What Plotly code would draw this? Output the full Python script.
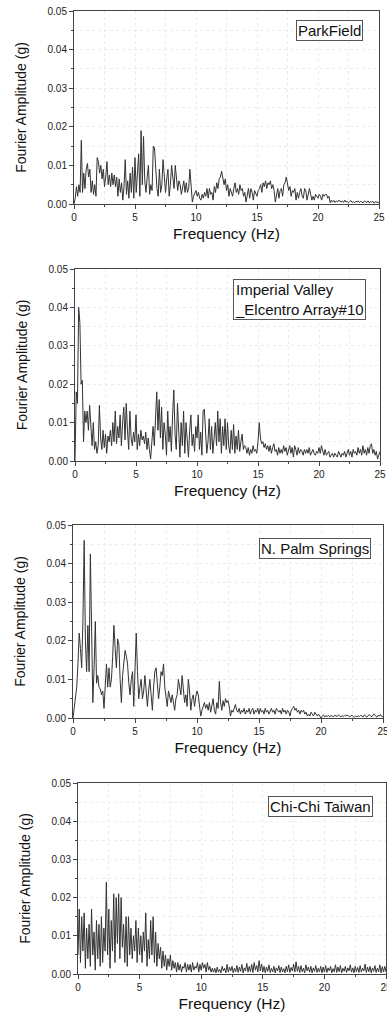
import plotly.graph_objects as go

# Frequency grid step (Hz) shared by all records
freq_step = 0.1

station_names = ["ParkField", "Imperial Valley<br>_Elcentro Array#10",
                 "N. Palm Springs", "Chi-Chi Taiwan"]

x_ticks = [0, 5, 10, 15, 20, 25]
y_ticks = [0.00, 0.01, 0.02, 0.03, 0.04, 0.05]

# Fourier amplitudes in milli-g (1e-3 g), one value per 0.1 Hz from 0 to 25 Hz
parkfield_mg = [
    0.0, 1.5, 4.5, 2.0, 5.0, 3.0, 16.5, 3.0, 8.0, 4.0,
    9.0, 10.5, 7.0, 9.0, 3.0, 6.0, 2.5, 5.0, 2.0, 12.0,
    11.0, 8.0, 10.0, 6.5, 9.0, 4.5, 7.0, 11.0, 5.0, 7.5,
    4.5, 8.0, 5.0, 7.5, 4.5, 7.0, 2.0, 6.5, 3.0, 5.5,
    1.0, 4.5, 11.5, 2.5, 6.0, 1.5, 8.0, 3.0, 9.5, 1.5,
    12.0, 3.0, 8.0, 13.0, 2.0, 19.0, 5.0, 17.5, 6.0, 3.0,
    7.0, 10.0, 2.5, 5.0, 3.5, 15.0, 14.5, 8.0, 4.0, 2.0,
    9.0, 3.0, 5.0, 11.5, 6.0, 3.0, 6.5, 9.0, 2.0, 5.0,
    10.0, 7.0, 4.0, 10.0, 5.5, 3.5, 6.0, 5.0, 2.5, 4.0,
    6.0, 3.0, 5.5, 3.0, 4.0, 9.0, 5.0, 0.5, 2.0, 3.0,
    3.5, 2.0, 3.0, 1.5, 1.0, 2.5, 1.5, 3.0, 2.0, 4.0,
    1.5, 4.0, 2.5, 3.0, 1.0, 4.5, 3.0, 5.5, 4.0, 6.5,
    7.0, 8.5, 6.0, 5.0, 6.5, 3.5, 5.0, 2.0, 4.0, 3.0,
    2.0, 4.0, 5.5, 3.0, 4.0, 2.5, 5.0, 3.5, 4.0, 2.0,
    3.0, 0.5, 2.5, 4.0, 1.5, 4.0, 3.0, 1.0, 3.5, 2.5,
    2.0, 3.5, 4.0, 5.0, 3.0, 5.5, 4.5, 6.0, 4.0, 5.5,
    5.0, 6.0, 4.0, 5.0, 3.5, 0.5, 2.0, 4.0, 1.5, 3.5,
    4.0, 2.0, 5.0, 5.5, 7.0, 4.5, 3.5, 4.5, 2.0, 3.5,
    3.0, 4.0, 1.0, 3.0, 1.5, 3.0, 4.0, 2.0, 1.5, 4.0,
    3.5, 1.0, 3.0, 4.0, 2.5, 1.0, 2.0, 1.0, 2.5, 2.0,
    1.5, 2.5, 2.0, 1.0, 2.5, 2.0, 2.5, 2.5, 1.5, 2.0,
    0.3, 1.0, 0.5, 0.9, 0.4, 0.8, 0.5, 1.0, 0.6, 0.5,
    0.8, 0.4, 1.0, 0.5, 0.7, 0.3, 0.6, 0.9, 0.4, 0.6,
    0.3, 0.7, 0.5, 0.8, 0.4, 0.7, 0.5, 0.3, 0.8, 0.5,
    0.4, 0.8, 0.3, 0.6, 0.5, 0.7, 0.2, 0.6, 0.5, 0.4,
    0.3,
]

imperial_valley_mg = [
    0.0, 18.0, 15.0, 40.0, 36.0, 20.0, 21.0, 5.0, 13.0, 10.0,
    13.0, 8.0, 14.5, 10.0, 4.0, 10.0, 3.0, 5.0, 2.0, 4.0,
    14.5, 6.0, 3.0, 8.0, 3.5, 7.0, 2.0, 6.5, 5.0, 8.0,
    4.0, 10.0, 5.0, 13.0, 4.5, 9.0, 6.0, 12.0, 4.0, 10.0,
    14.0, 5.5, 15.0, 8.0, 3.0, 13.0, 6.0, 4.0, 7.5, 5.0,
    12.0, 3.0, 7.0, 4.0, 8.0, 5.5, 6.5, 4.5, 7.5, 3.0,
    6.0, 3.0, 0.5, 5.0, 9.0, 4.0, 12.0, 18.0, 8.0, 16.0,
    6.0, 14.0, 3.0, 10.0, 7.0, 1.5, 13.0, 5.0, 9.0, 2.5,
    12.0, 18.5, 7.0, 3.0, 15.0, 8.0, 1.0, 10.0, 4.0, 13.0,
    2.0, 10.0, 5.0, 1.0, 8.0, 12.0, 4.0, 7.0, 2.5, 9.0,
    6.0, 12.0, 3.0, 7.5, 1.5, 13.0, 13.5, 8.0, 2.0, 5.0,
    11.0, 3.0, 9.0, 2.0, 6.0, 10.0, 4.0, 13.0, 5.0, 11.0,
    2.0, 9.0, 4.0, 11.0, 3.0, 10.0, 4.0, 2.0, 8.0, 3.0,
    9.5, 2.0, 6.5, 3.0, 8.0, 2.5, 5.0, 7.0, 3.0, 4.0,
    3.5, 2.0, 3.5, 1.5, 3.0, 2.0, 4.0, 2.5, 3.0, 2.0,
    5.0, 10.0, 6.0, 4.5, 5.0, 3.5, 4.5, 3.0, 4.0, 2.5,
    4.0, 2.0, 3.5, 4.5, 2.5, 3.0, 1.5, 3.5, 2.0, 3.0,
    2.0, 4.0, 2.5, 3.5, 1.5, 3.0, 4.0, 2.0, 3.5, 1.0,
    4.0, 3.0, 1.5, 3.5, 2.0, 3.0, 2.5, 1.5, 3.0, 2.0,
    3.0, 2.0, 3.5, 1.5, 2.5, 3.0, 2.0, 1.5, 2.5, 2.0,
    3.5, 2.0, 4.0, 2.5, 1.5, 3.0, 1.5, 2.0, 2.5, 1.0,
    1.5, 2.0, 1.0, 2.0, 1.5, 1.0, 2.5, 1.5, 1.0, 2.0,
    1.5, 2.5, 1.0, 2.0, 3.0, 1.5, 2.5, 1.0, 3.0, 2.0,
    2.5, 1.5, 3.5, 2.0, 3.0, 1.5, 4.0, 2.0, 3.0, 1.5,
    3.5, 2.0, 4.0, 4.5, 2.0, 3.0, 1.5, 2.5, 0.5, 1.5,
    2.5,
]

palm_springs_mg = [
    0.0, 3.0, 5.0, 8.0, 14.0, 22.0, 18.0, 13.0, 25.0, 46.0,
    20.0, 12.0, 24.0, 12.0, 42.5, 25.0, 4.0, 13.0, 25.0, 9.0,
    11.0, 8.0, 7.5, 6.0, 7.0, 2.5, 9.0, 14.0, 8.0, 13.0,
    8.0, 10.0, 16.0, 24.0, 18.0, 13.0, 20.5, 19.0, 10.0, 4.0,
    11.0, 15.0, 17.5, 16.0, 14.0, 9.0, 6.0, 10.0, 12.0, 3.0,
    15.0, 22.0, 12.0, 5.0, 8.0, 10.0, 5.0, 7.0, 11.0, 6.0,
    3.0, 7.0, 10.0, 6.0, 2.0, 8.0, 12.0, 13.0, 9.0, 5.0,
    8.0, 12.0, 11.0, 14.0, 8.0, 5.0, 3.0, 7.0, 5.0, 4.0,
    6.0, 4.0, 2.0, 5.0, 6.0, 10.0, 8.0, 6.0, 11.0, 7.0,
    4.0, 6.0, 3.0, 10.0, 7.0, 2.0, 5.0, 6.0, 3.0, 5.5,
    7.0, 6.0, 3.0, 0.5, 2.0, 3.0, 4.0, 2.5, 3.5, 2.0,
    4.0, 1.5, 3.0, 5.0, 2.0, 1.0, 4.0, 2.5, 9.5, 4.0,
    2.0, 4.5, 3.0, 5.0, 4.0, 4.5, 3.0, 0.5, 2.0, 1.5,
    2.5, 3.5, 2.0, 1.5, 2.5, 1.0, 2.0, 1.5, 2.5, 1.0,
    2.0, 1.5, 2.5, 1.0, 2.0, 2.5, 1.0, 2.0, 1.5, 2.5,
    1.0, 2.5, 1.5, 2.0, 1.0, 2.5, 1.5, 2.0, 1.0, 2.0,
    2.5, 1.5, 2.0, 1.0, 2.5, 2.0, 1.5, 2.0, 1.0, 2.5,
    1.5, 2.0, 1.0, 2.0, 1.5, 0.5, 2.0, 2.5, 3.0, 2.0,
    2.5, 1.5, 2.0, 1.0, 2.0, 1.5, 2.0, 1.0, 1.5, 0.5,
    1.0, 0.5, 1.5, 1.0, 0.5, 1.5, 1.0, 0.5, 1.0, 0.3,
    0.0, 0.5, 0.8, 0.3, 0.6, 0.4, 0.7, 0.3, 0.6, 0.5,
    0.3, 0.7, 0.5, 0.4, 0.8, 0.5, 0.3, 0.6, 0.4, 0.7,
    0.5, 0.8, 0.6, 0.3, 0.5, 0.7, 0.4, 0.2, 0.5, 0.3,
    0.6, 0.4, 0.7, 0.5, 0.3, 0.8, 0.5, 0.2, 0.6, 0.9,
    0.5, 0.3, 0.8, 1.0, 0.6, 0.2, 0.7, 0.5, 0.9, 0.4,
    0.3,
]

chi_chi_mg = [
    5.0, 17.0, 3.0, 15.0, 6.0, 16.0, 1.5, 12.0, 4.0, 13.0,
    2.0, 17.0, 5.0, 11.0, 1.0, 14.0, 4.0, 13.0, 2.0, 15.0,
    3.0, 12.0, 6.0, 24.0, 5.0, 17.0, 1.5, 14.0, 6.0, 21.0,
    3.0, 20.0, 8.0, 21.0, 4.0, 20.0, 7.0, 13.0, 3.0, 15.0,
    2.0, 15.0, 5.0, 12.0, 4.0, 10.0, 6.0, 14.0, 3.0, 12.0,
    5.0, 10.0, 3.0, 11.0, 6.0, 16.0, 2.0, 9.0, 4.0, 14.0,
    5.0, 15.0, 3.0, 11.0, 2.0, 8.0, 4.0, 7.0, 1.5, 6.0,
    2.0, 5.0, 1.0, 4.0, 2.0, 5.0, 1.0, 3.5, 1.5, 3.0,
    0.5, 3.0, 1.0, 2.5, 0.5, 2.0, 1.5, 3.0, 0.5, 2.5,
    1.0, 2.5, 0.5, 3.0, 1.0, 2.0, 1.5, 3.0, 0.5, 2.5,
    1.0, 3.0, 1.5, 2.5, 0.5, 3.0, 1.0, 2.0, 0.5, 1.5,
    0.5, 1.5, 0.3, 1.8, 0.5, 1.2, 0.3, 2.0, 0.8, 1.5,
    0.3, 2.5, 0.5, 1.8, 0.8, 2.0, 0.3, 1.5, 0.6, 2.2,
    0.4, 1.8, 0.7, 2.5, 0.3, 1.6, 0.8, 2.8, 0.5, 2.0,
    0.6, 2.5, 0.4, 3.0, 1.0, 2.2, 0.5, 3.5, 0.8, 2.6,
    0.5, 2.0, 0.3, 1.8, 0.7, 2.4, 0.4, 1.5, 0.6, 2.0,
    0.3, 1.6, 0.8, 2.2, 0.4, 1.8, 0.5, 1.4, 0.3, 2.0,
    0.6, 2.4, 0.4, 1.7, 0.8, 2.6, 0.5, 3.2, 0.7, 2.0,
    0.4, 2.2, 0.6, 1.5, 0.3, 2.4, 0.8, 1.8, 0.5, 2.0,
    0.3, 1.6, 0.7, 2.2, 0.4, 1.5, 0.6, 2.0, 0.3, 1.8,
    0.5, 2.2, 0.4, 1.6, 0.8, 2.0, 0.3, 1.4, 0.6, 2.4,
    0.4, 1.8, 0.6, 2.2, 0.3, 1.5, 0.7, 2.0, 0.4, 1.6,
    0.8, 2.4, 0.5, 1.6, 0.3, 2.0, 0.6, 1.7, 0.4, 2.2,
    0.5, 1.5, 0.8, 2.6, 0.4, 1.8, 0.6, 2.0, 0.3, 1.6,
    0.7, 2.2, 0.4, 1.5, 0.6, 2.4, 0.3, 1.9, 0.5, 2.0,
    0.6,
]

records = [parkfield_mg, imperial_valley_mg, palm_springs_mg, chi_chi_mg]

W, H = 387, 1013
FONT = "Liberation Sans, Arial, sans-serif"

# panel plot areas in pixels: (left, right, top, bottom)
panels_px = [
    (74, 379, 11, 204),
    (75, 380, 269, 461),
    (73, 383, 525, 718),
    (78, 386, 783, 974),
]
# label box anchor (right, top) in pixels
label_px = [(363, 20), (366, 279), (371, 538), (373, 796)]

fig = go.Figure()
layout = dict(
    width=W, height=H,
    margin=dict(l=0, r=0, t=0, b=0, autoexpand=False),
    paper_bgcolor="white", plot_bgcolor="white",
    showlegend=False,
    font=dict(family=FONT, color="#222"),
    annotations=[],
)

for i, (vals, name) in enumerate(zip(records, station_names)):
    k = "" if i == 0 else str(i + 1)
    freqs = [j * freq_step for j in range(len(vals))]
    amps = [v / 1000.0 for v in vals]
    fig.add_trace(go.Scatter(
        x=freqs, y=amps, mode="lines",
        line=dict(color="#333333", width=1.0),
        xaxis="x" + k, yaxis="y" + k, hoverinfo="skip",
    ))
    l, r, t, b = panels_px[i]
    common = dict(
        showline=True, linecolor="#444", linewidth=1, mirror=True,
        ticks="outside", ticklen=4, tickcolor="#444", tickwidth=1,
        showgrid=True, gridcolor="#ececec", griddash="dot", gridwidth=1,
        zeroline=False, automargin=False, ticklabeloverflow="allow",
        tickfont=dict(size=10, family=FONT, color="#222"),
    )
    layout["xaxis" + k] = dict(
        common,
        domain=[l / W, min(r / W, 1.0)], anchor="y" + k,
        range=[0, 25], tickvals=x_ticks,
        minor=dict(dtick=2.5, ticks="outside", ticklen=2, tickcolor="#444",
                   showgrid=True, gridcolor="#ececec", griddash="dot"),
        title=dict(text="Frequency (Hz)", font=dict(size=15.5, family=FONT, color="#111"),
                   standoff=6),
    )
    layout["yaxis" + k] = dict(
        common,
        domain=[1 - b / H, 1 - t / H], anchor="x" + k,
        range=[0, 0.05], tickvals=y_ticks, tickformat=".2f",
        minor=dict(dtick=0.005, ticks="outside", ticklen=2, tickcolor="#444",
                   showgrid=True, gridcolor="#ececec", griddash="dot"),
        title=dict(text="Fourier Amplitude (g)", font=dict(size=14, family=FONT, color="#111"),
                   standoff=17),
    )
    rx, ty = label_px[i]
    layout["annotations"].append(dict(
        text=name, xref="paper", yref="paper",
        x=rx / W, y=1 - ty / H, xanchor="right", yanchor="top",
        showarrow=False, align="left",
        font=dict(size=15, family=FONT, color="#111"),
        bordercolor="#555", borderwidth=1, borderpad=1, bgcolor="white",
    ))

fig.update_layout(**layout)
# remove the default page margin so the figure sits at the window's top-left corner
fig.write_html("out.html",
               config={"displayModeBar": False, "staticPlot": True},
               post_script="document.body.style.margin='0';document.body.style.overflow='hidden';")
